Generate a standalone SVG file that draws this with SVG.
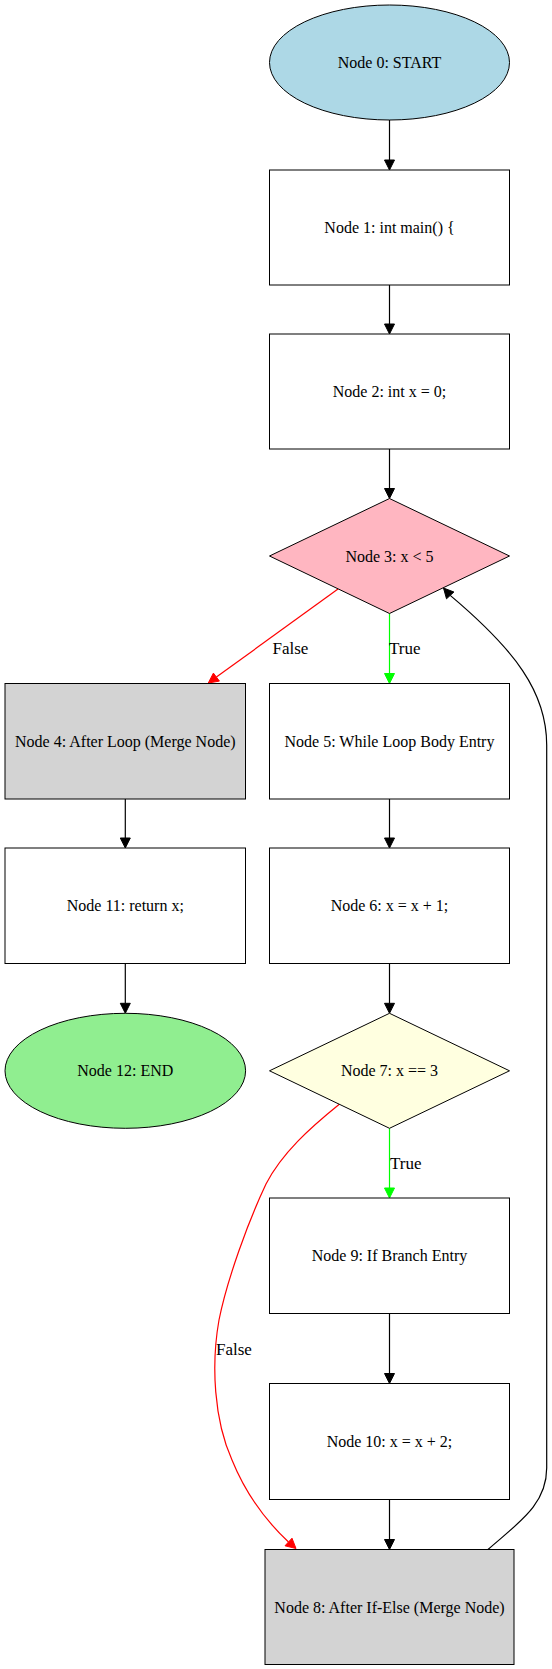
<svg xmlns="http://www.w3.org/2000/svg" width="552" height="1669" viewBox="0 0 552 1669">
<style>
  .n { stroke: #000; stroke-width: 1; }
  .t { font-family: "Liberation Serif", "Times New Roman", serif; font-size: 16px; text-anchor: middle; fill: #000; }
  .lbl { font-family: "Liberation Serif", "Times New Roman", serif; font-size: 17px; fill: #000; }
  .e { fill: none; stroke: #000; stroke-width: 1.2; }
  .red { stroke: #ff0000; }
  .green { stroke: #00ff00; }
</style>
<rect x="0" y="0" width="552" height="1669" fill="#ffffff"/>
<g id="connectors">
  <!-- N0 -> N1 -->
  <path class="e" d="M389.5,120 L389.5,160"/>
  <polygon points="384.5,160 394.5,160 389.5,170" fill="#000" stroke="#000"/>
  <!-- N1 -> N2 -->
  <path class="e" d="M389.5,285 L389.5,324"/>
  <polygon points="384.5,324 394.5,324 389.5,334" fill="#000" stroke="#000"/>
  <!-- N2 -> N3 -->
  <path class="e" d="M389.5,449 L389.5,488.5"/>
  <polygon points="384.5,488.5 394.5,488.5 389.5,498.5" fill="#000" stroke="#000"/>
  <!-- N3 -> N4 False -->
  <path class="e red" d="M338,589 L216.4,677.1"/>
  <polygon points="213.4,673.1 219.4,681.1 208.3,683" fill="#ff0000" stroke="#ff0000"/>
  <text class="lbl" x="272.5" y="654">False</text>
  <!-- N3 -> N5 True -->
  <path class="e green" d="M389.5,613.5 L389.5,673.5"/>
  <polygon points="384.5,673.5 394.5,673.5 389.5,683.5" fill="#00ff00" stroke="#00ff00"/>
  <text class="lbl" x="389" y="654">True</text>
  <!-- N4 -> N11 -->
  <path class="e" d="M125.3,799 L125.3,838"/>
  <polygon points="120.3,838 130.3,838 125.3,848" fill="#000" stroke="#000"/>
  <!-- N5 -> N6 -->
  <path class="e" d="M389.5,799 L389.5,838"/>
  <polygon points="384.5,838 394.5,838 389.5,848" fill="#000" stroke="#000"/>
  <!-- N11 -> N12 -->
  <path class="e" d="M125.3,963.5 L125.3,1003.3"/>
  <polygon points="120.3,1003.3 130.3,1003.3 125.3,1013.3" fill="#000" stroke="#000"/>
  <!-- N6 -> N7 -->
  <path class="e" d="M389.5,963.5 L389.5,1003.3"/>
  <polygon points="384.5,1003.3 394.5,1003.3 389.5,1013.3" fill="#000" stroke="#000"/>
  <!-- N7 -> N9 True -->
  <path class="e green" d="M389.5,1128.3 L389.5,1188"/>
  <polygon points="384.5,1188 394.5,1188 389.5,1198" fill="#00ff00" stroke="#00ff00"/>
  <text class="lbl" x="390" y="1168.5">True</text>
  <!-- N7 -> N8 False -->
  <path class="e red" d="M339.3,1104.3 C310,1128 282,1153 266,1184 C248,1222 227,1280 219,1320 C211,1365 214,1420 232,1460 C245,1492 265,1520 288.5,1542"/>
  <polygon points="285,1545.8 292,1538.2 296,1548.5" fill="#ff0000" stroke="#ff0000"/>
  <text class="lbl" x="216" y="1355">False</text>
  <!-- N9 -> N10 -->
  <path class="e" d="M389.5,1313.5 L389.5,1373.5"/>
  <polygon points="384.5,1373.5 394.5,1373.5 389.5,1383.5" fill="#000" stroke="#000"/>
  <!-- N10 -> N8 -->
  <path class="e" d="M389.5,1499.5 L389.5,1539.5"/>
  <polygon points="384.5,1539.5 394.5,1539.5 389.5,1549.5" fill="#000" stroke="#000"/>
  <!-- N8 -> N3 back edge -->
  <path class="e" d="M488,1549.5 C518,1523 546.7,1505 546.7,1468 L546.7,745 C546.7,692 515,650 450.2,595.4"/>
  <polygon points="446.5,598.8 453.9,592 443.5,588" fill="#000" stroke="#000"/>
</g>
<g id="node0">
  <ellipse class="n" cx="389.5" cy="62.5" rx="120" ry="57.5" fill="#add8e6"/>
  <text class="t" x="389.5" y="68">Node 0: START</text>
</g>
<g id="node1">
  <rect class="n" x="269.5" y="170" width="240" height="115" fill="#ffffff"/>
  <text class="t" x="389.5" y="233">Node 1: int main() {</text>
</g>
<g id="node2">
  <rect class="n" x="269.5" y="334" width="240" height="115" fill="#ffffff"/>
  <text class="t" x="389.5" y="397">Node 2: int x = 0;</text>
</g>
<g id="node3">
  <polygon class="n" points="389.5,498.5 509.5,556 389.5,613.5 269.5,556" fill="#ffb6c1"/>
  <text class="t" x="389.5" y="561.5">Node 3: x &lt; 5</text>
</g>
<g id="node4">
  <rect class="n" x="5" y="683.5" width="240.5" height="115.5" fill="#d3d3d3"/>
  <text class="t" x="125.3" y="746.5">Node 4: After Loop (Merge Node)</text>
</g>
<g id="node5">
  <rect class="n" x="269.5" y="683.5" width="240" height="115.5" fill="#ffffff"/>
  <text class="t" x="389.5" y="746.5">Node 5: While Loop Body Entry</text>
</g>
<g id="node11">
  <rect class="n" x="5" y="848" width="240.5" height="115.5" fill="#ffffff"/>
  <text class="t" x="125.3" y="911">Node 11: return x;</text>
</g>
<g id="node6">
  <rect class="n" x="269.5" y="848" width="240" height="115.5" fill="#ffffff"/>
  <text class="t" x="389.5" y="911">Node 6: x = x + 1;</text>
</g>
<g id="node12">
  <ellipse class="n" cx="125.3" cy="1070.8" rx="120.3" ry="57.5" fill="#90ee90"/>
  <text class="t" x="125.3" y="1076.3">Node 12: END</text>
</g>
<g id="node7">
  <polygon class="n" points="389.5,1013.3 509.5,1070.8 389.5,1128.3 269.5,1070.8" fill="#ffffe0"/>
  <text class="t" x="389.5" y="1076.3">Node 7: x == 3</text>
</g>
<g id="node9">
  <rect class="n" x="269.5" y="1198" width="240" height="115.5" fill="#ffffff"/>
  <text class="t" x="389.5" y="1261.2">Node 9: If Branch Entry</text>
</g>
<g id="node10">
  <rect class="n" x="269.5" y="1383.5" width="240" height="116" fill="#ffffff"/>
  <text class="t" x="389.5" y="1447">Node 10: x = x + 2;</text>
</g>
<g id="node8">
  <rect class="n" x="265" y="1549.5" width="249" height="115" fill="#d3d3d3"/>
  <text class="t" x="389.5" y="1612.5">Node 8: After If-Else (Merge Node)</text>
</g>
</svg>
